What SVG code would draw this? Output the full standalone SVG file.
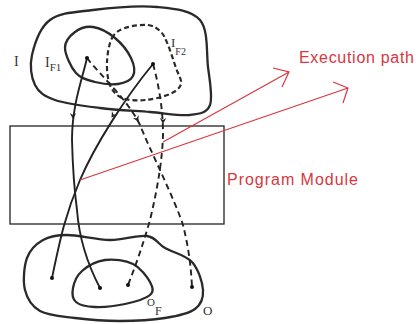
<svg xmlns="http://www.w3.org/2000/svg" xmlns:xlink="http://www.w3.org/1999/xlink" width="416" height="324" viewBox="0 0 416 324">
<style>
.blob{fill:none;stroke:#2a2a2a;stroke-width:2.3;stroke-linejoin:round}
.dblob{fill:none;stroke:#2a2a2a;stroke-width:2.2;stroke-dasharray:5 3}
.sol{fill:none;stroke:#222;stroke-width:1.9;stroke-linecap:round}
.dash{fill:none;stroke:#222;stroke-width:1.9;stroke-dasharray:6 4}
.red{fill:none;stroke:#d9363e;stroke-width:1.2}
.lbl{font-family:"Liberation Serif",serif;fill:#333}
.rtxt{font-family:"Liberation Sans",Arial,sans-serif;font-size:16px;fill:#d9363e}
.dot{fill:#111}
</style>
<defs>
<path id="ah" d="M-3.2,-5 L0,1 L3.2,-5 L0,-3 Z" fill="#222"/>
</defs>
<rect width="416" height="324" fill="#fff"/>
<g id="module">
<rect x="10" y="126" width="214" height="98" fill="none" stroke="#222" stroke-width="1.3"/>
<text class="rtxt" x="227" y="185" textLength="131">Program Module</text>
</g>
<g id="I">
<path class="blob" d="M50,20 C60.2,12.5 75.2,12.2 93,10 S139.2,5.3 157,7 S191.5,10 200,20 S206.3,52.8 208,67 S213,97 210,105 S200,113.8 190,115 S165,113.2 150,112 S115.8,110 100,108 S65.8,103.8 55,100 S38.8,92.5 35,85 S29.5,65.8 32,55 S39.8,27.5 50,20 Z"/>
<text class="lbl" x="14" y="66" font-size="14">I</text>
</g>
<g id="IF1">
<path class="blob" d="M65,48 C64.8,41.2 70.3,35.5 75,32 S86.3,26 93,27 S108.7,32.8 115,38 S128,51.7 131,58 S135.2,71.7 133,76 S124.3,83 118,84 S102,83.8 95,82 S81,78.7 76,73 S65.2,54.8 65,48 Z"/>
<text class="lbl" x="45" y="67" font-size="14">I<tspan font-size="11" dy="4">F1</tspan></text>
</g>
<g id="IF2">
<path class="dblob" d="M112,38 C115,32.3 119,30.2 125,28 S142,24.3 148,25 S157.7,28.7 161,32 S165.5,39 168,45 S173.8,61.5 176,68 S182,79.7 181,84 S176,91.3 170,94 S153,99.3 145,100 S127.8,100.5 122,98 S112.5,91 110,85 S106.7,69.8 107,62 S109,43.7 112,38 Z"/>
<text class="lbl" x="171" y="47" font-size="13">I<tspan font-size="10" dy="8">F2</tspan></text>
</g>
<g id="O">
<path class="blob" d="M43,240 C49.7,236.2 55.8,235 67,235 S96.7,239.8 110,240 S137.8,234.7 147,236 S157.5,243.7 165,248 S185.7,255 192,262 S202.5,282.2 203,290 S201.3,304.3 195,309 S177.5,316 165,318 S135,321 120,321 S88.3,319.7 75,318 S48.3,315.7 40,311 S27.2,298.8 25,290 S24,266.3 27,258 S36.3,243.8 43,240 Z"/>
<text class="lbl" x="203" y="315" font-size="13">O</text>
</g>
<g id="OF">
<path class="blob" d="M73,288 C74,282.8 76.7,275.7 82,271 S96.5,261.2 105,260 S125.5,260.3 133,264 S147.2,276.8 150,282 S154.2,291.3 150,295 S134.2,302 125,304 S103.2,307.3 95,307 S79.7,305.2 76,302 S72,293.2 73,288 Z"/>
<text class="lbl" x="147" y="306" font-size="11">O<tspan font-size="12" dy="9">F</tspan></text>
</g>
<g id="connectors">
<path class="sol" d="M87,58 C82,80 72,105 72,140 Q73,180 77,210 Q80,250 100,288"/>
<path class="sol" d="M153,64 C125,98 95,145 80,180 S60,240 52,278"/>
<path class="dash" d="M87,58 C100,75 128,100 140,125 C150,150 175,200 183,225 C188,245 191,265 192,287"/>
<path class="dash" d="M153,64 Q163,100 163,135 Q162,170 150,220 Q140,255 128,285"/>
<use xlink:href="#ah" transform="translate(73,118)"/>
<use xlink:href="#ah" transform="translate(112,117) rotate(32)"/>
<use xlink:href="#ah" transform="translate(138,121) rotate(-27)"/>
<use xlink:href="#ah" transform="translate(163,123)"/>
<circle class="dot" cx="87" cy="58" r="2"/>
<circle class="dot" cx="153" cy="64" r="2"/>
<circle class="dot" cx="52" cy="278" r="2"/>
<circle class="dot" cx="100" cy="288" r="2"/>
<circle class="dot" cx="128" cy="285" r="2"/>
<circle class="dot" cx="192" cy="287" r="2"/>
</g>
<g id="execution-path">
<path class="red" d="M163,142 L289,72 M273,68 L289,72 L282,87"/>
<path class="red" d="M80,180 L348,88 M333,82 L348,88 L343,103"/>
<text class="rtxt" x="299" y="63" textLength="115">Execution path</text>
</g>
</svg>
